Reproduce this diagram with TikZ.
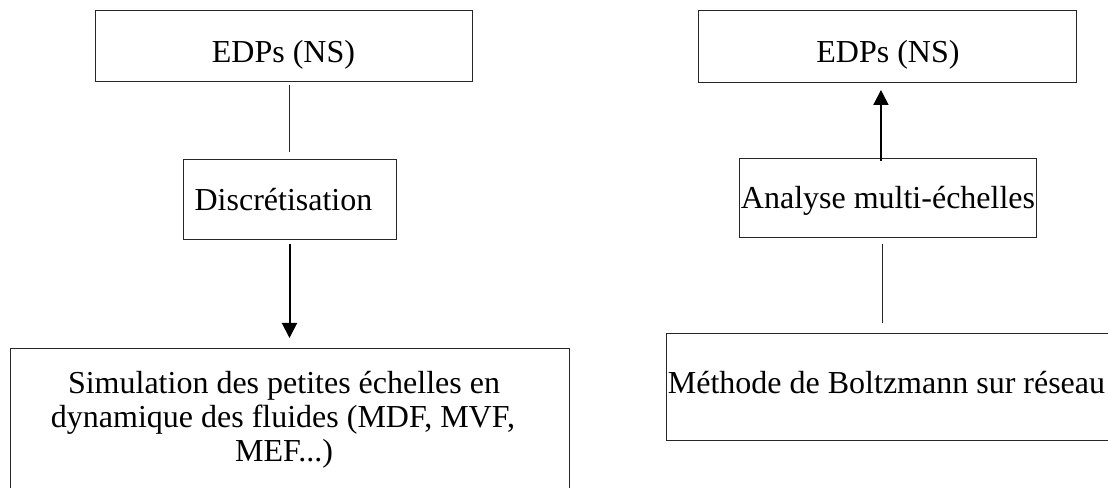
\documentclass[tikz,border=0pt]{standalone}
\usepackage{fontspec}
\setmainfont{Liberation Serif}
\usetikzlibrary{arrows.meta}
\begin{document}
\begin{tikzpicture}[x=0.75pt,y=-0.75pt,
  box/.style={draw=black!85,line width=0.75pt,inner sep=0pt,outer sep=0pt,rectangle},
  txt/.style={anchor=base,inner sep=0pt,font=\fontsize{24}{26}\selectfont},
  plain/.style={draw=black!85,line width=0.75pt},
  arr/.style={draw=black,line width=1.5pt,-{Triangle[length=11.25pt,width=11.25pt]}}]
\clip (0,0) rectangle (1108,488);
\fill[white] (0,0) rectangle (1108,488);
% left column
\node[box,minimum width=282.75pt,minimum height=53.25pt] (eL) at (283.5,46.5) {};
\node[box,minimum width=159.75pt,minimum height=60pt] (disc) at (289.5,200) {};
\node[box,minimum width=419.25pt,minimum height=128.25pt] (simL) at (289.5,434.5) {};
\node[txt] (teL) at (283.5,63) {EDPs (NS)};
\node[txt] (tdisc) at (283.5,211) {Discrétisation};
\node[txt] (tsim1) at (284,394) {Simulation des petites échelles en};
\node[txt] (tsim2) at (283,428) {dynamique des fluides (MDF, MVF,};
\node[txt] (tsim3) at (284,462) {MEF...)};
\draw[plain,shorten <=2.25pt,shorten >=6pt] (disc.north |- eL.south) -- (disc.north);
\draw[arr,shorten <=3pt,shorten >=8.25pt] (disc.south) -- (disc.south |- simL.north);
% right column
\node[box,minimum width=283.5pt,minimum height=54pt] (eR) at (887,47) {};
\node[box,minimum width=222.75pt,minimum height=59.25pt] (anR) at (887.5,198.5) {};
\node[box,minimum width=348pt,minimum height=80.25pt] (boltz) at (898,387.5) {};
\node[txt] (teR) at (888,63) {EDPs (NS)};
\node[txt] (tanR) at (888,209) {Analyse multi-échelles};
\node[txt] (tboltz) at (886.5,394) {Méthode de Boltzmann sur réseau};
\draw[arr,shorten <=-1.5pt,shorten >=5.25pt] ([xshift=-4.9pt]anR.north) -- ([xshift=-4.9pt]anR.north |- eR.south);
\draw[plain,shorten <=8.25pt,shorten >=4.5pt] ([xshift=-3.75pt]anR.south |- boltz.north) -- ([xshift=-3.75pt]anR.south);
\end{tikzpicture}
\end{document}
